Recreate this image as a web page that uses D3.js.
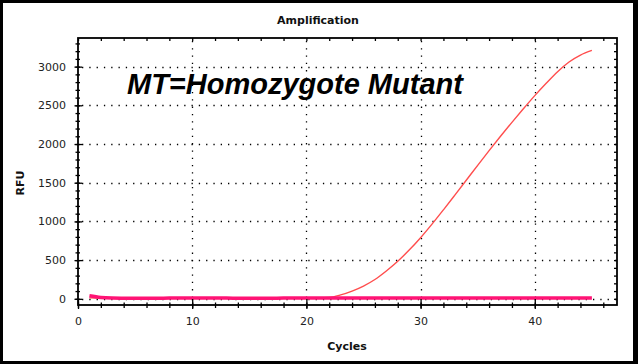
<!DOCTYPE html>
<html>
<head>
<meta charset="utf-8">
<script src="https://cdn.jsdelivr.net/npm/d3@7"></script>
<style>
  html, body { margin: 0; padding: 0; background: #fff; }
  svg { display: block; }
  text { font-family: "DejaVu Sans", Verdana, sans-serif; }
</style>
</head>
<body>
<svg id="chart" width="638" height="364"></svg>
<script>
// ---- data ----
const cycles = [1,2,3,4,5,6,7,8,9,10,11,12,13,14,15,16,17,18,19,20,21,22,23,24,25,26,27,28,29,30,31,32,33,34,35,36,37,38,39,40,41,42,43,44,45];
const mutantRFU = [12,10,9,9,9,10,10,10,10,10,10,10,10,10,10,10,10,10,10,11,12,17,50,100,165,250,360,485,630,790,965,1150,1340,1532,1725,1915,2100,2280,2455,2625,2785,2935,3060,3150,3210];
const baselineRFU = [40,18,10,8,7,7,8,9,10,11,11,10,9,8,8,8,8,9,10,11,12,12,12,12,12,12,12,12,12,12,12,12,12,12,12,12,12,12,12,12,12,12,12,12,12];
const xTickLabels = [0,10,20,30,40];
const yTickLabels = [0,500,1000,1500,2000,2500,3000];
const xMinorTicks = d3.range(0, 47, 2);
const yMinorTicks = d3.range(0, 3400, 100);
const chartTitle = "Amplification";
const xTitle = "Cycles";
const yTitle = "RFU";
const annotation = "MT=Homozygote Mutant";

// ---- layout ----
const W = 638, H = 364;
const L = 78, R = 617, T = 38, B = 305;
const svg = d3.select("#chart");

// outer frame
svg.append("rect").attr("x",0).attr("y",0).attr("width",W).attr("height",H).attr("fill","#000");
svg.append("rect").attr("x",3).attr("y",3).attr("width",630).attr("height",358).attr("fill","#fff");

const x = d3.scaleLinear().domain([0, 47.2]).range([L, R]);
const y = d3.scaleLinear().domain([-80, 3370]).range([B, T]);

// grid
const grid = svg.append("g").attr("stroke","#000").attr("stroke-width",1.3).attr("stroke-dasharray","1.3,6");
grid.selectAll("line.gx").data(xTickLabels.filter(d => d > 0)).join("line")
  .attr("x1", d => Math.round(x(d)) + 0.5).attr("x2", d => Math.round(x(d)) + 0.5)
  .attr("y1", B).attr("y2", T);
grid.selectAll("line.gy").data(yTickLabels).join("line")
  .attr("y1", d => Math.round(y(d)) + 0.5).attr("y2", d => Math.round(y(d)) + 0.5)
  .attr("x1", L + 4).attr("x2", R);

// series
const line = d3.line().x((d, i) => x(cycles[i])).y(d => y(d)).curve(d3.curveMonotoneX);
svg.append("path").datum(mutantRFU).attr("d", line)
  .attr("fill","none").attr("stroke","#ff4d4d").attr("stroke-width",1.4);
svg.append("path").datum(baselineRFU).attr("d", line)
  .attr("fill","none").attr("stroke","#ff1475").attr("stroke-width",3.5);

// axes
const fmt = d3.format("d");
const axStyle = g => {
  g.select(".domain").remove();
  g.selectAll(".tick line").attr("stroke","#000").attr("stroke-width",1.3);
  g.selectAll(".tick text").attr("fill","#222").style("font-size","11px")
    .style("font-family","'DejaVu Sans', Verdana, sans-serif");
};
// left minor
svg.append("g").attr("transform",`translate(${L},0)`)
  .call(d3.axisLeft(y).tickValues(yMinorTicks).tickFormat("").tickSizeInner(2.5).tickSizeOuter(0))
  .call(axStyle).call(g => g.selectAll(".tick line").attr("x2",-2.5).attr("x1",2));
// left major
svg.append("g").attr("transform",`translate(${L},0)`)
  .call(d3.axisLeft(y).tickValues(yTickLabels).tickFormat(fmt).tickSizeInner(3).tickSizeOuter(0).tickPadding(9))
  .call(axStyle).call(g => g.selectAll(".tick line").attr("x2",-3.5).attr("x1",4));
// right ticks
svg.append("g").attr("transform",`translate(${R},0)`)
  .call(d3.axisLeft(y).tickValues(yMinorTicks).tickFormat("").tickSizeInner(3).tickSizeOuter(0))
  .call(axStyle);
// bottom minor
svg.append("g").attr("transform",`translate(0,${B})`)
  .call(d3.axisBottom(x).tickValues(xMinorTicks).tickFormat("").tickSizeInner(3).tickSizeOuter(0))
  .call(axStyle).call(g => g.selectAll(".tick line").attr("y1",-2.5));
// bottom major
svg.append("g").attr("transform",`translate(0,${B})`)
  .call(d3.axisBottom(x).tickValues(xTickLabels).tickFormat(fmt).tickSizeInner(4).tickSizeOuter(0).tickPadding(8))
  .call(axStyle).call(g => g.selectAll(".tick line").attr("y1",-6));
// top ticks
svg.append("g").attr("transform",`translate(0,${T})`)
  .call(d3.axisTop(x).tickValues(xMinorTicks).tickFormat("").tickSizeInner(-3).tickSizeOuter(0))
  .call(axStyle);

// plot frame
svg.append("rect").attr("x",L).attr("y",T).attr("width",R-L).attr("height",B-T)
  .attr("fill","none").attr("stroke","#000").attr("stroke-width",1.8);

// texts
svg.append("text").attr("x",318).attr("y",24).attr("text-anchor","middle")
  .style("font-size","11px").style("font-weight","bold").attr("fill","#111").text(chartTitle);
svg.append("text").attr("x",347).attr("y",349.5).attr("text-anchor","middle")
  .style("font-size","11px").style("font-weight","bold").attr("fill","#111").text(xTitle);
svg.append("text").attr("transform","translate(24,183) rotate(-90)").attr("text-anchor","middle")
  .style("font-size","11px").style("font-weight","bold").attr("fill","#111").text(yTitle);
svg.append("text").attr("x",127).attr("y",94)
  .style("font-family","'Liberation Sans', Arial, sans-serif")
  .style("font-size","29px").style("font-weight","bold").style("font-style","italic")
  .attr("fill","#000").text(annotation);
</script>
</body>
</html>
